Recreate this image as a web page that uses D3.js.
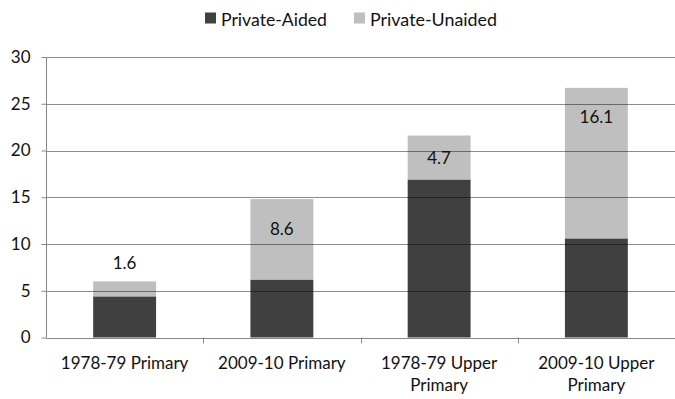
<!DOCTYPE html>
<html>
<head>
<meta charset="utf-8">
<script src="https://cdn.jsdelivr.net/npm/d3@7"></script>
<style>
  html, body { margin: 0; padding: 0; background: #fff; }
  svg { display: block; font-family: Lato, "Open Sans", sans-serif; }
</style>
</head>
<body>
<svg id="chart" width="675" height="399"></svg>
<script>
// Share of enrolment in private schools (%), by stage and year
const categories = [
  ["1978-79 Primary"],
  ["2009-10 Primary"],
  ["1978-79 Upper", "Primary"],
  ["2009-10 Upper", "Primary"]
];
const privateAided   = [4.4, 6.2, 16.9, 10.6];
const privateUnaided = [1.6, 8.6, 4.7, 16.1];
const seriesNames  = ["Private-Aided", "Private-Unaided"];
const seriesColors = ["#404040", "#bfbfbf"];
const yTicks = [0, 5, 10, 15, 20, 25, 30];

const svg = d3.select("#chart");
const margin = { top: 57, right: 0, bottom: 61.5, left: 46 };
const W = 675, H = 399;

const x = d3.scaleBand()
  .domain(d3.range(categories.length))
  .range([margin.left, W - margin.right])
  .paddingInner(0.6)
  .paddingOuter(0.3);

const y = d3.scaleLinear()
  .domain([0, 30])
  .range([H - margin.bottom, margin.top]);

const rows = categories.map((c, i) => ({ i, aided: privateAided[i], unaided: privateUnaided[i] }));
const stacked = d3.stack().keys(["aided", "unaided"])(rows);

// bars
svg.append("g").selectAll("g")
  .data(stacked)
  .join("g")
  .attr("fill", (d, k) => seriesColors[k])
  .selectAll("rect")
  .data(d => d)
  .join("rect")
  .attr("x", d => x(d.data.i))
  .attr("width", x.bandwidth())
  .attr("y", d => y(d[1]))
  .attr("height", d => y(d[0]) - y(d[1]));

// gridlines, drawn over the bars
svg.append("g")
  .selectAll("line")
  .data(yTicks.filter(t => t > 0))
  .join("line")
  .attr("x1", margin.left).attr("x2", W)
  .attr("y1", d => Math.round(y(d)) + 0.5).attr("y2", d => Math.round(y(d)) + 0.5)
  .attr("stroke", "#000").attr("stroke-opacity", 0.45);

// y axis
const yAxis = svg.append("g")
  .attr("transform", `translate(${margin.left + 0.5},0)`)
  .call(d3.axisLeft(y).tickValues(yTicks).tickSize(5).tickPadding(11));
yAxis.select(".domain").attr("stroke", "#888").attr("d", `M0,${y(30)}V${y(0)}`);
yAxis.selectAll(".tick line").attr("stroke", "#888");
yAxis.selectAll(".tick text")
  .attr("fill", "#111").attr("font-size", 17)
  .style("font-family", "Lato, sans-serif");

// x axis
const xBoundaries = d3.scaleLinear().domain([0, categories.length]).range([margin.left, W - margin.right]);
const xAxisG = svg.append("g");
xAxisG.append("line")
  .attr("x1", margin.left).attr("x2", W)
  .attr("y1", Math.round(y(0)) + 0.5).attr("y2", Math.round(y(0)) + 0.5)
  .attr("stroke", "#888");
xAxisG.selectAll("line.tk")
  .data(d3.range(1, categories.length))
  .join("line")
  .attr("class", "tk")
  .attr("x1", d => Math.round(xBoundaries(d)) + 0.5).attr("x2", d => Math.round(xBoundaries(d)) + 0.5)
  .attr("y1", y(0)).attr("y2", y(0) + 6)
  .attr("stroke", "#888");

const catText = xAxisG.selectAll("text")
  .data(categories)
  .join("text")
  .attr("text-anchor", "middle")
  .attr("font-size", 17)
  .attr("fill", "#111")
  .attr("transform", (d, i) => `translate(${x(i) + x.bandwidth() / 2},${y(0) + 31})`);
catText.selectAll("tspan")
  .data(d => d)
  .join("tspan")
  .attr("x", 0)
  .attr("dy", (d, j) => j === 0 ? 0 : 22)
  .text(d => d);

// value labels for the unaided segment
const unaidedLayer = stacked[1];
svg.append("g").selectAll("text")
  .data(unaidedLayer)
  .join("text")
  .attr("text-anchor", "middle")
  .attr("font-size", 17)
  .attr("fill", "#111")
  .attr("dominant-baseline", "central")
  .attr("x", d => x(d.data.i) + x.bandwidth() / 2)
  .attr("y", d => {
    const t = y(d[1]), b = y(d[0]);
    if (b - t < 30) return t - 19;
    return Math.min(t + 29, (t + b) / 2);
  })
  .text(d => d3.format(".1f")(d.data.unaided));

// legend
const legend = svg.append("g").attr("transform", "translate(205,18)");
const legendX = [0, 149];
const legendTextWidth = [106, 127];
seriesNames.forEach((name, k) => {
  const g = legend.append("g").attr("transform", `translate(${legendX[k]},0)`);
  g.append("rect").attr("x", 0).attr("y", -5.5).attr("width", 11).attr("height", 11).attr("fill", seriesColors[k]);
  g.append("text").attr("x", 16).attr("y", 0.5).attr("dominant-baseline", "central")
    .attr("font-size", 18).attr("fill", "#111")
    .attr("textLength", legendTextWidth[k]).attr("lengthAdjust", "spacingAndGlyphs")
    .text(name);
});
</script>
</body>
</html>
